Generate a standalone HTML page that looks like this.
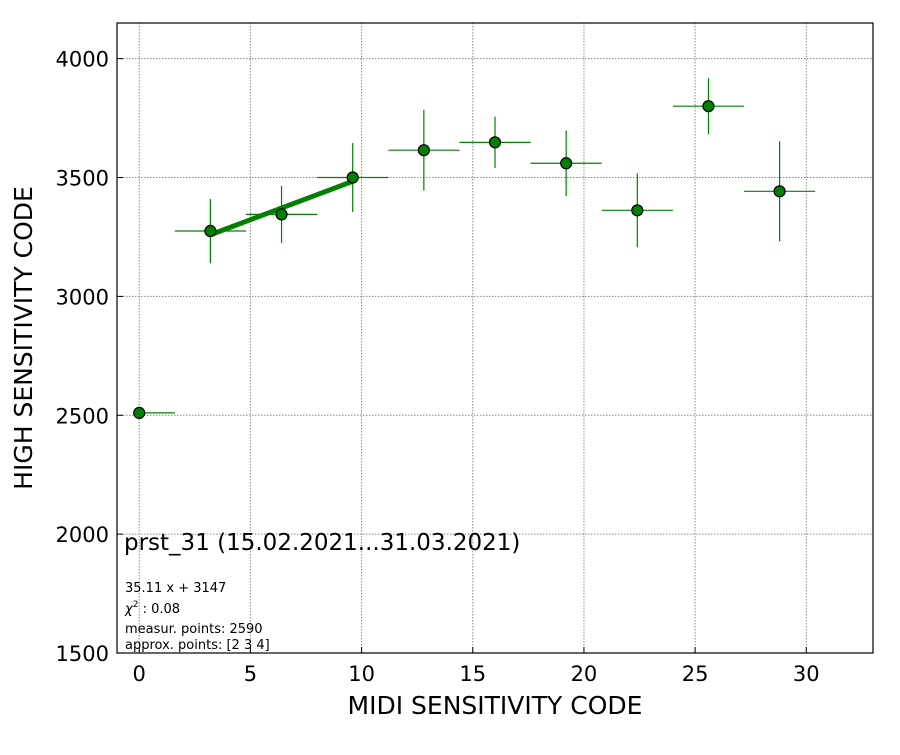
<!DOCTYPE html>
<html><head><meta charset="utf-8"><style>
body{margin:0;background:#fff}
svg{font-family:"DejaVu Sans","Liberation Sans",sans-serif}
</style></head><body>
<svg id="chart" width="900" height="750">
<rect x="0" y="0" width="900" height="750" fill="#fff"/>
<g id="grid"></g>
<g id="ticks"></g>
<g id="marks"></g>
<rect x="117" y="23" width="756" height="630" fill="none" stroke="#000" stroke-width="1.2"/>
<text x="495" y="714" font-size="25" text-anchor="middle">MIDI SENSITIVITY CODE</text>
<text transform="translate(32,338) rotate(-90)" font-size="25" text-anchor="middle">HIGH SENSITIVITY CODE</text>
<text x="124" y="550" font-size="23">prst_31 (15.02.2021...31.03.2021)</text>
<text x="125" y="592" font-size="13">35.11 x + 3147</text>
<text x="125" y="613" font-size="13"><tspan font-style="italic">χ</tspan><tspan dy="-6" font-size="9">2</tspan><tspan dy="6"> : 0.08</tspan></text>
<text x="125" y="633" font-size="13">measur. points: 2590</text>
<text x="125" y="649" font-size="13">approx. points: [2 3 4]</text>
</svg>
<script>
const xVals=[0,3.2,6.4,9.6,12.8,16,19.2,22.4,25.6,28.8];
const yVals=[2510,3275,3345,3500,3615,3648,3560,3362,3800,3442];
const xErrLo=[0,1.6,1.6,1.6,1.6,1.6,1.6,1.6,1.6,1.6];
const xErrHi=[1.6,1.6,1.6,1.6,1.6,1.6,1.6,1.6,1.6,1.6];
const yErr=[0,135,120,145,170,108,138,155,118,210];
const fitSlope=35.11, fitIntercept=3147;
const fitRange=[3.2,9.6];
const xTicks=[0,5,10,15,20,25,30];
const yTicks=[1500,2000,2500,3000,3500,4000];
const L=117,R=873,T=23,B=653;
const X=v=>L+(v+1)/34*(R-L);
const Y=v=>B-(v-1500)/2650*(B-T);
const NS="http://www.w3.org/2000/svg";
function mk(p,tag,a){const e=document.createElementNS(NS,tag);for(const k in a)e.setAttribute(k,a[k]);p.appendChild(e);return e;}
const grid=document.getElementById('grid'),ticks=document.getElementById('ticks'),marks=document.getElementById('marks');
xTicks.forEach(t=>{
 const g=mk(grid,'line',{x1:X(t),x2:X(t),y1:T,y2:B,stroke:'#888','stroke-dasharray':'1.5,1.5','stroke-width':1});
 
 
 const tk=mk(ticks,'line',{x1:X(t),x2:X(t),y1:B,y2:B-6,stroke:'#000'});
 
 
 const tl=mk(ticks,'text',{x:X(t),y:B+28,'font-size':21,'text-anchor':'middle'});tl.textContent=t;
 
 
});
yTicks.forEach(t=>{
 const g=mk(grid,'line',{x1:L,x2:R,y1:Y(t),y2:Y(t),stroke:'#888','stroke-dasharray':'1.5,1.5','stroke-width':1});
 
 
 const tk=mk(ticks,'line',{x1:L,x2:L+6,y1:Y(t),y2:Y(t),stroke:'#000'});
 
 
 const tl=mk(ticks,'text',{x:L-8,y:Y(t)+8,'font-size':21,'text-anchor':'end'});tl.textContent=t;
 
 
});
const fl=mk(marks,'line',{x1:X(fitRange[0]),y1:Y(fitSlope*fitRange[0]+fitIntercept),x2:X(fitRange[1]),y2:Y(fitSlope*fitRange[1]+fitIntercept),stroke:'#008000','stroke-width':5});


xVals.forEach((x,i)=>{
 const y=yVals[i];
 const h=mk(marks,'line',{x1:X(x-xErrLo[i]),x2:X(x+xErrHi[i]),y1:Y(y),y2:Y(y),stroke:'#008000','stroke-width':1.2});
 
 
 if(yErr[i]>0){
  const v=mk(marks,'line',{x1:X(x),x2:X(x),y1:Y(y-yErr[i]),y2:Y(y+yErr[i]),stroke:'#008000','stroke-width':1.2});
  
  
 }
 const c=mk(marks,'circle',{cx:X(x),cy:Y(y),r:5.5,fill:'#008000',stroke:'#000','stroke-width':1.2});
 
 
});
</script>
</body></html>
